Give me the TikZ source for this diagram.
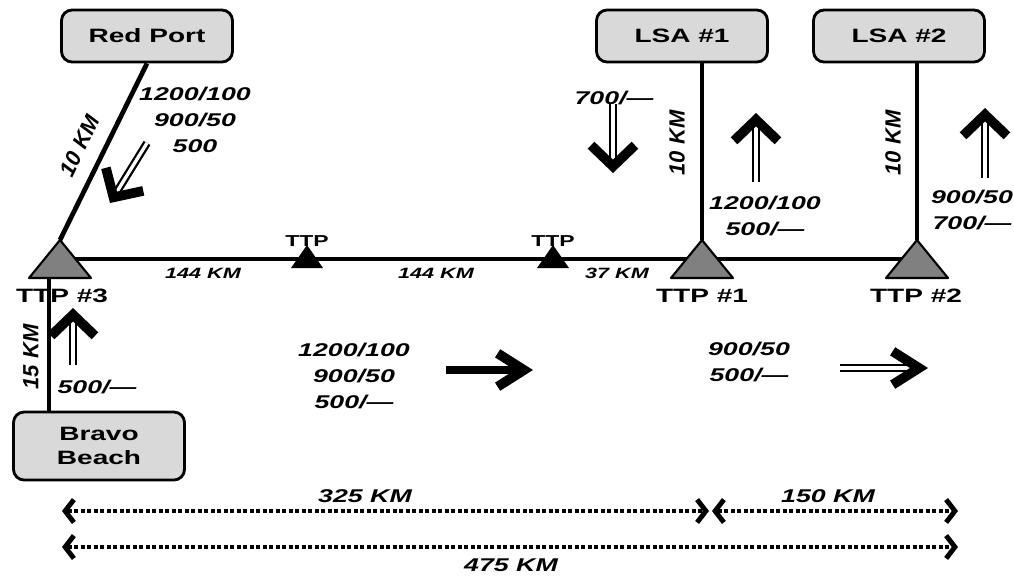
\documentclass[tikz,border=0pt]{standalone}
\usepackage{fontspec}
\setmainfont{Liberation Sans}
\newfontfamily\wide{Liberation Sans}[FakeStretch=1.45]
\usetikzlibrary{
	arrows.meta,
	positioning,
	calc
}

\begin{document}
\begin{tikzpicture}[
			x=0.02cm, y=-0.02cm,
			local/.style={draw, line width=1.6pt, rounded corners=6pt, fill=black!15, minimum width=3.42cm, minimum height=1.04cm, align=center, font=\wide\bfseries\fontsize{11}{14}\selectfont},
			ruta/.style={line width=2.7pt},
			tri/.style={draw, line width=1.2pt, fill=black!50, line join=round},
			ttplbl/.style={font=\wide\bfseries\fontsize{11}{13}\selectfont},
			ttpsm/.style={font=\wide\bfseries\fontsize{9}{11}\selectfont},
			dist/.style={font=\wide\bfseries\itshape\fontsize{8.5}{9}\selectfont},
			vdist/.style={font=\bfseries\itshape\fontsize{12.5}{13}\selectfont},
			carga/.style={align=center, font=\wide\bfseries\itshape\fontsize{10.5}{15}\selectfont},
			cotalbl/.style={font=\wide\bfseries\itshape\fontsize{10.5}{11}\selectfont},
			flecha/.style={double, double distance=1.9pt, line width=1.3pt},
			puntav/.style={line width=0.4pt, -{Straight Barb[length=12pt, width=25pt, line width=5.5pt]}},
			puntah/.style={line width=0.4pt, -{Straight Barb[length=15pt, width=19pt, line width=5.5pt]}},
			cota/.style={line width=2.3pt, dash pattern=on 2.4pt off 1.3pt, {Straight Barb[length=5pt, width=13pt, line width=2.8pt]}-{Straight Barb[length=5pt, width=13pt, line width=2.8pt]}}
		]
		\useasboundingbox (0,0) rectangle (1014,576);

		% puntos de la ruta
		\coordinate (j3) at (60,259);
		\coordinate (j1) at (702,259);
		\coordinate (j2) at (917,259);
		\coordinate (p1) at (307,259);
		\coordinate (p2) at (553,259);
		\coordinate (b3) at (49,278);

		\node[local] (rp) at (147,36) {Red Port};
		\node[local] (lsa1) at (682,36) {LSA \#1};
		\node[local] (lsa2) at (899,36) {LSA \#2};
		\node[local, minimum height=1.36cm] (bb) at (99,446) {Bravo\\ Beach};

		\draw[ruta] (j3) -- (j2);
		\draw[ruta] (rp.south) -- ($(j3)+(0,-19)$);
		\draw[ruta] ($(j1)+(0,-19)$) -- (j1 |- lsa1.south);
		\draw[ruta] ($(j2)+(0,-19)$) -- (j2 |- lsa2.south);
		\draw[ruta] (b3) -- (b3 |- bb.north);

		\foreach \j in {j3,j1,j2}
			\draw[tri] ($(\j)+(0,-19)$) -- ++(31,38) -- ++(-62,0) -- cycle;
		\foreach \p in {p1,p2}
			\fill ($(\p)+(0,-14)$) -- ++(16,23) -- ++(-32,0) -- cycle;

		\node[ttplbl] (l3) at (62,296) {TTP \#3};
		\node[ttplbl] (l1) at (702,296) {TTP \#1};
		\node[ttplbl] (l2) at (916,296) {TTP \#2};
		\node[ttpsm] (lp1) at (307,241) {TTP};
		\node[ttpsm] (lp2) at (553,241) {TTP};

		\node[dist] (k1) at (203,273) {144 KM};
		\node[dist] (k2) at (436,273) {144 KM};
		\node[dist] (k3) at (617,273) {37 KM};
		\node[vdist, rotate=64] (k4) at (80,146) {10 KM};
		\node[vdist, rotate=90] (k5) at (677,143) {10 KM};
		\node[vdist, rotate=90] (k6) at (893,143) {10 KM};
		\node[vdist, rotate=90] (k7) at (31,357) {15 KM};

		\node[carga] (c1) at (195,120) {1200/100\\ 900/50\\ 500};
		\node[carga] (c2) at (614,98) {700/—};
		\node[carga] (c3) at (765,216) {1200/100\\ 500/—};
		\node[carga] (c4) at (972,210) {900/50\\ 700/—};
		\node[carga] (c5) at (97,387) {500/—};
		\node[carga] (c6) at (354,376) {1200/100\\ 900/50\\ 500/—};
		\node[carga] (c7) at (749,362) {900/50\\ 500/—};

		% flechas de flujo
		\foreach \ax/\ay/\bx/\by in {147/143/110/203, 613/104/613/173, 756/182/756/113, 985/178/985/108, 73/365/73/308} {
			\draw[flecha] (\ax,\ay) -- ($(\bx,\by)!5pt!(\ax,\ay)$);
			\draw[puntav] ($(\bx,\by)!6pt!(\ax,\ay)$) -- (\bx,\by);
		}
		\draw[line width=4.5pt] (446,370) -- (525,370);
		\draw[puntah] (527,370) -- (533,370);
		\draw[flecha] (840,368) -- (922,368);
		\draw[puntah] (922,368) -- (928,368);

		% cotas
		\coordinate (d0) at (62,511);
		\coordinate (d1) at (709,511);
		\coordinate (d2) at (712,511);
		\coordinate (d3) at (958,511);
		\coordinate (e0) at (62,547);
		\coordinate (e1) at (958,547);
		\draw[cota] (d0) -- (d1);
		\draw[cota] (d2) -- (d3);
		\draw[cota] (e0) -- (e1);
		\node[cotalbl] (m1) at (365,496) {325 KM};
		\node[cotalbl] (m2) at (828,496) {150 KM};
		\node[cotalbl] (m3) at (511,565) {475 KM};
	\end{tikzpicture}
\end{document}
